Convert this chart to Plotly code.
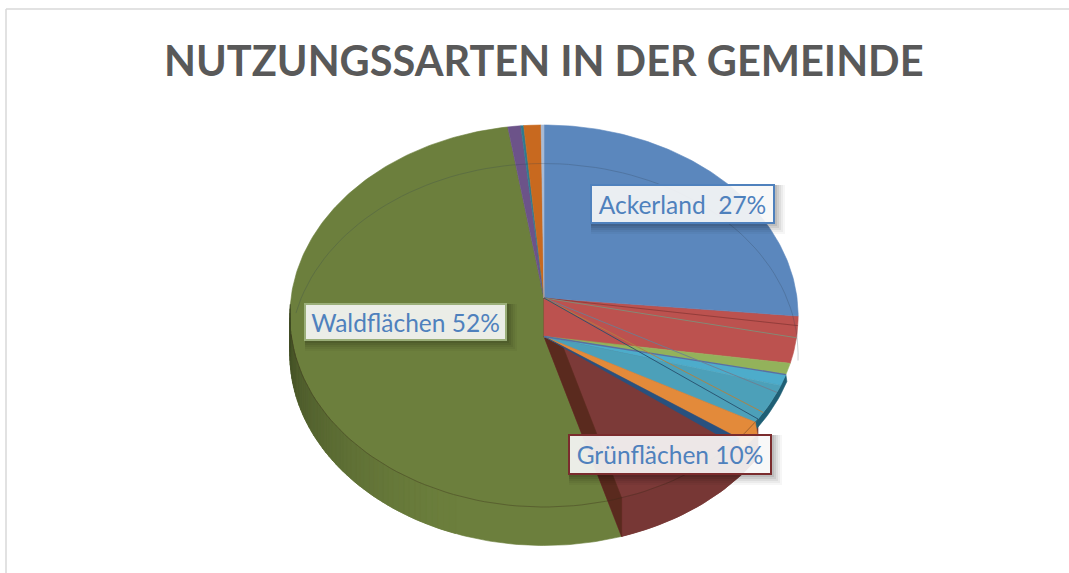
import numpy as np
import plotly.graph_objects as go

# Data (clockwise from 12 o'clock, percent)
slice_names = ["Ackerland", "Sonstige A", "Sonstige B", "Sonstige C", "Sonstige D", "Sonstige E", "Sonstige F",
               "Grünflächen", "Waldflächen", "Sonstige G", "Sonstige H", "Sonstige I", "Sonstige J"]
slice_values = [26.5, 0.8, 1.0, 1.0, 3.6, 1.8, 0.6, 10.2, 52.0, 0.9, 0.2, 1.2, 0.2]
slice_colors = ["#5B87BD", "#BC524F", "#93B25B", "#4DACCB", "#4CA0B9", "#E38A3A", "#28517F",
                "#7C3A38", "#6C7F3D", "#6C5389", "#2F7A8F", "#C8691F", "#A8BAD4"]
label_texts = ["Ackerland  27%", "Waldflächen 52%", "Grünflächen 10%"]
title_text = "NUTZUNGSSARTEN IN DER GEMEINDE"

# Geometry of the tilted pie, in page pixels
CX, CY, RX, RY, K, DEPTH = 544.0, 298.0, 253.0, 189.3, 0.0943, 38.5


def rim(pct, dy=0.0):
    a = np.radians(np.asarray(pct, dtype=float) * 3.6)
    u, v = np.sin(a), np.cos(a)
    w = 1 + K * v
    return CX + RX * u / w, CY + dy - RY * v / w


def wedge(p0, p1, dy=0.0):
    n = max(3, int((p1 - p0) * 4))
    xs, ys = rim(np.linspace(p0, p1, n), dy)
    return np.r_[CX, xs, CX], np.r_[CY + dy, ys, CY + dy]


def clipped_rim(pct):
    """Where the ray from the lower apex through the lower rim meets the upper rim."""
    ps = np.linspace(20, 50, 601)
    tx, ty = rim(ps)
    top_angle = np.arctan2(ty - (CY + DEPTH), tx - CX)
    bx, by = rim(pct, DEPTH)
    ray_angle = np.arctan2(by - (CY + DEPTH), bx - CX)
    return np.interp(ray_angle, top_angle, ps)


def clipped_wedge(p0, p1):
    q0, q1 = clipped_rim(p0), clipped_rim(p1)
    xs, ys = rim(np.linspace(q0, q1, 12))
    return np.r_[CX, xs, CX], np.r_[CY + DEPTH, ys, CY + DEPTH]


def poly(fig, x, y, color, opacity=1.0, line=None):
    fig.add_trace(go.Scatter(x=x, y=y, mode="lines", fill="toself", fillcolor=color, opacity=opacity,
                             line=dict(color=line or color, width=0.6), hoverinfo="skip", showlegend=False))


def stroke(fig, x, y, color, width=1.0, opacity=1.0):
    fig.add_trace(go.Scatter(x=x, y=y, mode="lines", line=dict(color=color, width=width), opacity=opacity,
                             hoverinfo="skip", showlegend=False))


def mix(c, f):
    rgb = [int(c[i:i + 2], 16) for i in (1, 3, 5)]
    return "rgb(%d,%d,%d)" % tuple(int(x * f) for x in rgb)


def rim_band(q0, q1, dy, color, dx=0.0):
    xs0, ys0 = rim(np.linspace(q0, q1, 12))
    xs1, ys1 = rim(np.linspace(q1, q0, 12), dy)
    poly(fig, np.r_[xs0, xs1 + dx, xs0[0]], np.r_[ys0, ys1, ys0[0]], color)


edges = np.r_[0, np.cumsum(slice_values)]
span = dict(zip(slice_names, zip(edges[:-1], edges[1:])))
colors = dict(zip(slice_names, slice_colors))
fig = go.Figure()

# Back layer: top faces and bottom faces of the two large slices
for nm in ["Waldflächen", "Grünflächen"]:
    a, b = span[nm]
    poly(fig, *wedge(a, b, DEPTH), colors[nm])
    poly(fig, *wedge(a, b, 0.0), colors[nm])

# Outer walls, shaded by how far the wall turns away from the viewer
a, b = span["Waldflächen"]
steps = np.linspace(a, b, 141)
for p0, p1 in zip(steps[:-1], steps[1:]):
    pm = (p0 + p1) / 2
    if pm > 74.5 or pm < 55:
        continue
    t = np.clip((pm - 55) / 19.5, 0, 1)  # 0 at the front, 1 at the left side
    xs0, ys0 = rim(np.array([p0, p1]))
    xs1, ys1 = rim(np.array([p1, p0]), DEPTH)
    poly(fig, np.r_[xs0, xs1, xs0[0]], np.r_[ys0, ys1, ys0[0]], mix(colors["Waldflächen"], 1 - 0.42 * t ** 1.4))

a, b = span["Grünflächen"]
xs0, ys0 = rim(np.linspace(a, b, 30))
xs1, ys1 = rim(np.linspace(b, a, 30), DEPTH)
poly(fig, np.r_[xs0, xs1, xs0[0]], np.r_[ys0, ys1, ys0[0]], mix(colors["Grünflächen"], 0.96))

# Inner wall at the end of Grünflächen
xe, ye = rim(b)
poly(fig, [CX, xe, xe, CX, CX], [CY, ye, ye + DEPTH, CY + DEPTH, CY], "#5A2A1E")

# Outer walls of the teal and orange slices, thin slivers at the rim
rim_band(clipped_rim(span["Sonstige C"][0]), clipped_rim(span["Sonstige D"][1]), 7, "#1F5F75", 1)
rim_band(clipped_rim(span["Sonstige D"][1]), clipped_rim(span["Sonstige E"][1]), 12, colors["Sonstige E"], 2)

# Red slice: its inner wall under Ackerland runs into its lower face, up to the upper rim
a, b = span["Sonstige A"]
xs, ys = rim(np.linspace(a, clipped_rim(b), 12))
poly(fig, np.r_[CX, xs, CX, CX], np.r_[CY, ys, CY + DEPTH, CY], colors["Sonstige A"])

# Lower faces of the other narrow slices, cut off at the upper rim
for nm in slice_names[2:7]:
    a, b = span[nm]
    poly(fig, *clipped_wedge(a, b), colors[nm])

# Boundary line between green and teal
q = span["Sonstige B"][1]
xe, ye = rim(clipped_rim(q))
stroke(fig, [CX, xe], [CY + DEPTH, ye], "#5B6F9F", 1.4)

# Top faces at the back
for nm in ["Ackerland"] + slice_names[9:]:
    a, b = span[nm]
    poly(fig, *wedge(a, b, 0.0), colors[nm])

# Slice borders of the top face, showing through
border_colors = ["#8F3B39", "#7F8F7A", "#6E7F92", "#B5813F", "#28506E"]
for e, col in zip([edges[2], edges[3], edges[5], edges[6], edges[7]], border_colors):
    xe, ye = rim(e)
    stroke(fig, [CX, xe], [CY, ye], col, 1.0, 0.9)

# Faint rim arcs
xs, ys = rim(np.linspace(-23, 27, 80), DEPTH)
stroke(fig, xs, ys, "#2F3F50", 0.7, 0.35)
xs, ys = rim(np.linspace(35.3, 72, 80))
stroke(fig, xs, ys, "#3A2A1A", 0.7, 0.5)

# Chart frame and label shadows
boxes = [(590, 184, 775, 224, "#4F81BD"), (304, 303, 507, 341, "#9BAF7A"), (568, 434, 772, 475, "#7B2C2E")]
shapes = [
    dict(type="line", x0=6, x1=1069, y0=9, y1=9, line=dict(color="#D9D9D9", width=1.5)),
    dict(type="line", x0=6, x1=6, y0=9, y1=573, line=dict(color="#D9D9D9", width=1.5)),
]
for x0, y0, x1, y1, _ in boxes:
    for g, op in [(10, 0.035), (8, 0.045), (6, 0.06), (4, 0.07), (2, 0.08)]:
        shapes.append(dict(type="rect", x0=x0 + 1, x1=x1 + g, y0=y0 + 1, y1=y1 + g,
                           fillcolor="#000000", opacity=op, line=dict(width=0)))

annotations = [dict(x=544, y=60, xref="x", yref="y", text="<b>%s</b>" % title_text, showarrow=False,
                    font=dict(family="Lato", size=41.5, color="#595959"))]
for (x0, y0, x1, y1, col), txt in zip(boxes, label_texts):
    annotations.append(dict(x=(x0 + x1) / 2, y=(y0 + y1) / 2, xref="x", yref="y", text=txt, showarrow=False,
                            width=x1 - x0 - 4, height=y1 - y0 - 4, align="center", valign="middle",
                            bgcolor="rgba(255,255,255,0.89)", bordercolor=col, borderwidth=2, borderpad=0,
                            font=dict(family="Lato", size=24.5, color="#4F81BD")))

fig.update_layout(
    width=1069, height=573, margin=dict(l=0, r=0, t=0, b=0), autosize=False,
    paper_bgcolor="white", plot_bgcolor="white", showlegend=False,
    xaxis=dict(range=[0, 1069], visible=False, fixedrange=True),
    yaxis=dict(range=[573, 0], visible=False, fixedrange=True),
    shapes=shapes, annotations=annotations,
)
fig.write_html("out.html", config=dict(displayModeBar=False),
               post_script="document.body.style.margin='0';document.documentElement.style.overflow='hidden';")
